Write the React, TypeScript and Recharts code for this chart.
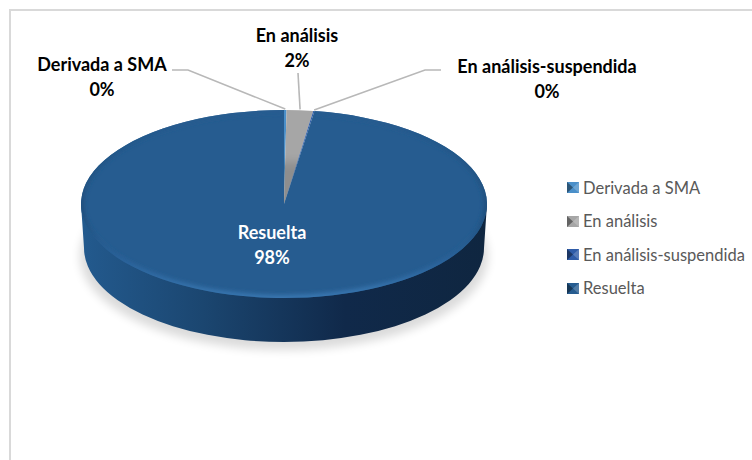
import { PieChart, Pie, Cell, Legend } from "recharts";

const categories = ["Derivada a SMA", "En análisis", "En análisis-suspendida", "Resuelta"];
const shares = [0.2, 2.1, 0.1, 97.6];
const faceColors = ["#4a8fc9", "#a6a6a6", "#2f5ca8", "#265c90"];
const percentTexts = ["0%", "2%", "0%", "98%"];

const data = categories.map((name, i) => ({ name, value: shares[i] }));

const CX = 284;
const CY = 204;
const R = 203;
const SQUASH = 94 / 203;
const DEPTH = 44;
const FONT = "Lato, 'Open Sans', sans-serif";

// where each label sits: text centre and the elbow of its leader line
const labelSpots = [
	{ x: 102, y: 71, elbow: [172, 70, 188, 70] },
	{ x: 297, y: 42, elbow: [298, 73, 298, 73] },
	{ x: 547, y: 73, elbow: [441, 70, 425, 70] },
	{ x: 272, y: 239, elbow: null },
];

const ellipsePoint = (cx: number, cy: number, r: number, deg: number) => {
	const a = (deg * Math.PI) / 180;
	return [cx + r * Math.cos(a), cy - r * SQUASH * Math.sin(a)];
};

function Slice(props: any) {
	const { cx, cy, outerRadius: r, startAngle, endAngle, fill, index } = props;
	const [x0, y0] = ellipsePoint(cx, cy, r, startAngle);
	const [x1, y1] = ellipsePoint(cx, cy, r, endAngle);
	const large = Math.abs(endAngle - startAngle) > 180 ? 1 : 0;
	const ry = r * SQUASH;
	const sweep = startAngle > endAngle ? 1 : 0;
	const arc = `M${x0},${y0} A${r},${ry} 0 ${large} ${sweep} ${x1},${y1}`;
	const face = `M${cx},${cy} L${x0},${y0} A${r},${ry} 0 ${large} ${sweep} ${x1},${y1} Z`;
	const isMain = index === categories.length - 1;
	return (
		<g>
			{isMain && (
				<>
					<ellipse cx={cx} cy={cy + DEPTH + 8} rx={r + 1} ry={ry} fill="#000" opacity={0.14} filter="url(#soft)" />
					<path
						d={`M${cx - r},${cy} L${cx - r + 3},${cy + DEPTH} A${r - 3},${ry} 0 0 0 ${cx + r - 3},${cy + DEPTH} L${cx + r},${cy} Z`}
						fill="url(#wall)"
					/>
				</>
			)}
			<path d={face} fill={fill} />
			{isMain && (
				<>
					<clipPath id="faceClip">
						<path d={face} />
					</clipPath>
					<g clipPath="url(#faceClip)">
						<path d={arc} fill="none" stroke="url(#rim)" strokeWidth={6} filter="url(#rimBlur)" />
					</g>
				</>
			)}
		</g>
	);
}

function SliceLabel(props: any) {
	const { cx, cy, outerRadius: r, midAngle, index } = props;
	const spot = labelSpots[index];
	const inside = index === categories.length - 1;
	const color = inside ? "#ffffff" : "#000000";
	let line = null;
	if (spot.elbow) {
		const [px, py] = ellipsePoint(cx, cy, r + 2, midAngle);
		const [ax, ay, bx, by] = spot.elbow;
		line = <polyline points={`${ax},${ay} ${bx},${by} ${px},${py}`} fill="none" stroke="#b8b8b8" strokeWidth={1.6} />;
	}
	return (
		<g>
			{line}
			<text x={spot.x} y={spot.y} textAnchor="middle" fontFamily={FONT} fontSize={18} fontWeight={700} fill={color}>
				{categories[index]}
			</text>
			<text x={spot.x} y={spot.y + 25} textAnchor="middle" fontFamily={FONT} fontSize={18} fontWeight={700} fill={color}>
				{percentTexts[index]}
			</text>
		</g>
	);
}

function LegendList() {
	return (
		<div style={{ fontFamily: FONT, fontSize: 16.5, color: "#595959" }}>
			{categories.map((name, i) => (
				<div key={name} style={{ height: 33.5, display: "flex", alignItems: "center", whiteSpace: "nowrap" }}>
					<svg width={12} height={11} style={{ marginRight: 4 }}>
						<rect width={12} height={11} fill={faceColors[i]} />
						<path d="M0,0 L6,5.5 L0,11 Z" fill="#000" opacity={0.4} />
						<path d="M12,0 L6,5.5 L12,11 Z" fill="#fff" opacity={0.2} />
					</svg>
					{name}
				</div>
			))}
		</div>
	);
}

export default function App() {
	return (
		<div style={{ position: "absolute", left: 0, top: 0, width: 752, height: 460, background: "#fff", overflow: "hidden" }}>
			<style>{"body{margin:0}"}</style>
			<div style={{ position: "absolute", left: 9, top: 9, width: 760, height: 470, borderLeft: "2px solid #d9d9d9", borderTop: "2px solid #d9d9d9" }} />
			<div style={{ position: "absolute", left: 0, top: 0 }}>
				<PieChart width={752} height={460} margin={{ top: 0, right: 0, bottom: 0, left: 0 }}>
					<defs>
						<linearGradient id="wall" x1="0" y1="0" x2="1" y2="0">
							<stop offset="0" stopColor="#235a8e" />
							<stop offset="0.3" stopColor="#1b4670" />
							<stop offset="0.65" stopColor="#10294a" />
							<stop offset="1" stopColor="#0f2640" />
						</linearGradient>
						<linearGradient id="rim" gradientUnits="userSpaceOnUse" x1="0" y1="110" x2="0" y2="298">
							<stop offset="0" stopColor="#265c90" />
							<stop offset="0.55" stopColor="#1f4e7b" />
							<stop offset="0.8" stopColor="#2a639b" />
							<stop offset="1" stopColor="#3a78b2" />
						</linearGradient>
						<filter id="soft" x="-10%" y="-20%" width="120%" height="140%">
							<feGaussianBlur stdDeviation="5" />
						</filter>
						<filter id="rimBlur" x="-5%" y="-10%" width="110%" height="120%">
							<feGaussianBlur stdDeviation="2" />
						</filter>
					</defs>
					<Pie
						data={data}
						dataKey="value"
						nameKey="name"
						cx={CX}
						cy={CY}
						innerRadius={0}
						outerRadius={R}
						startAngle={90}
						endAngle={-270}
						paddingAngle={0}
						stroke="none"
						shape={Slice}
						label={SliceLabel}
						labelLine={false}
						isAnimationActive={false}
					>
						{data.map((d, i) => (
							<Cell key={d.name} fill={faceColors[i]} />
						))}
					</Pie>
					<Legend
						layout="vertical"
						align="right"
						verticalAlign="top"
						wrapperStyle={{ left: 567, right: "auto", top: 171, width: 185 }}
						content={<LegendList />}
					/>
				</PieChart>
			</div>
		</div>
	);
}
